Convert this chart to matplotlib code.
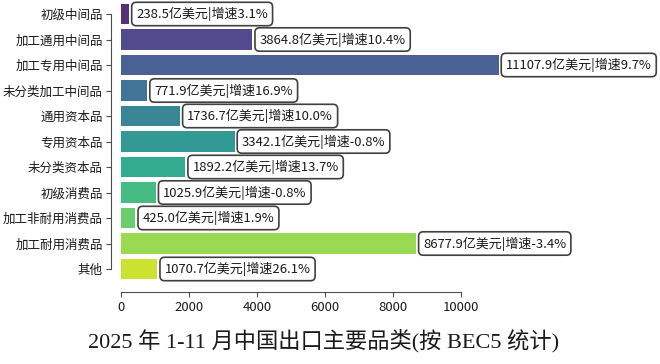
import numpy as np
import matplotlib
matplotlib.use('Agg')
import matplotlib.pyplot as plt

plt.rcParams['font.family'] = ['Noto Sans CJK SC', 'DejaVu Sans']

categories = ["初级中间品", "加工通用中间品", "加工专用中间品", "未分类加工中间品",
              "通用资本品", "专用资本品", "未分类资本品", "初级消费品",
              "加工非耐用消费品", "加工耐用消费品", "其他"]
values = [238.5, 3864.8, 11107.9, 771.9, 1736.7, 3342.1, 1892.2, 1025.9, 425.0, 8677.9, 1070.7]
growth = ["3.1%", "10.4%", "9.7%", "16.9%", "10.0%", "-0.8%", "13.7%", "-0.8%", "1.9%", "-3.4%", "26.1%"]
xticks = [0, 2000, 4000, 6000, 8000, 10000]
title = "2025 年 1-11 月中国出口主要品类(按 BEC5 统计)"

W, H = 660, 364
fig = plt.figure(figsize=(W / 100, H / 100), dpi=100)
ax = fig.add_axes([121 / W, 1 - 281.75 / H, 510 / W, 280.5 / H])

n = len(categories)
colors = plt.cm.viridis(np.linspace(0, 1, n + 2)[1:-1])
ypos = np.arange(n)
ax.barh(ypos, values, height=0.8, color=colors, alpha=0.92)

for i, (v, g) in enumerate(zip(values, growth)):
    ax.text(v + 210, i, f"{v:.1f}亿美元|增速{g}", va='center', ha='left',
            fontsize=9.4, color='0.1',
            bbox=dict(boxstyle='round,pad=0.35', fc='white', ec='0.25', lw=1.2))

ax.tick_params(colors='0.3', labelcolor='0.1')
ax.tick_params(axis='y', pad=2.5, labelsize=9)
ax.tick_params(axis='x', labelsize=9.5)

ax.set_yticks(ypos)
ax.set_yticklabels(categories)
ax.set_ylim(n - 0.5, -0.5)
ax.set_xlim(0, 15000)
ax.set_xticks(xticks)
ax.set_xticklabels([str(t) for t in xticks])

for s in ['top', 'right']:
    ax.spines[s].set_visible(False)
ax.spines['left'].set_position(('outward', 7.2))
ax.spines['bottom'].set_position(('outward', 7.2))
ax.spines['left'].set_bounds(0, n - 1)
ax.spines['bottom'].set_bounds(0, 10000)
for s in ['left', 'bottom']:
    ax.spines[s].set_color('0.3')

fig.text(0.49, 0.065, title, ha='center', va='center', fontsize=16,
         family=['Liberation Serif', 'Noto Sans CJK SC'], color='0.1')

plt.savefig("out.png", dpi=100)
